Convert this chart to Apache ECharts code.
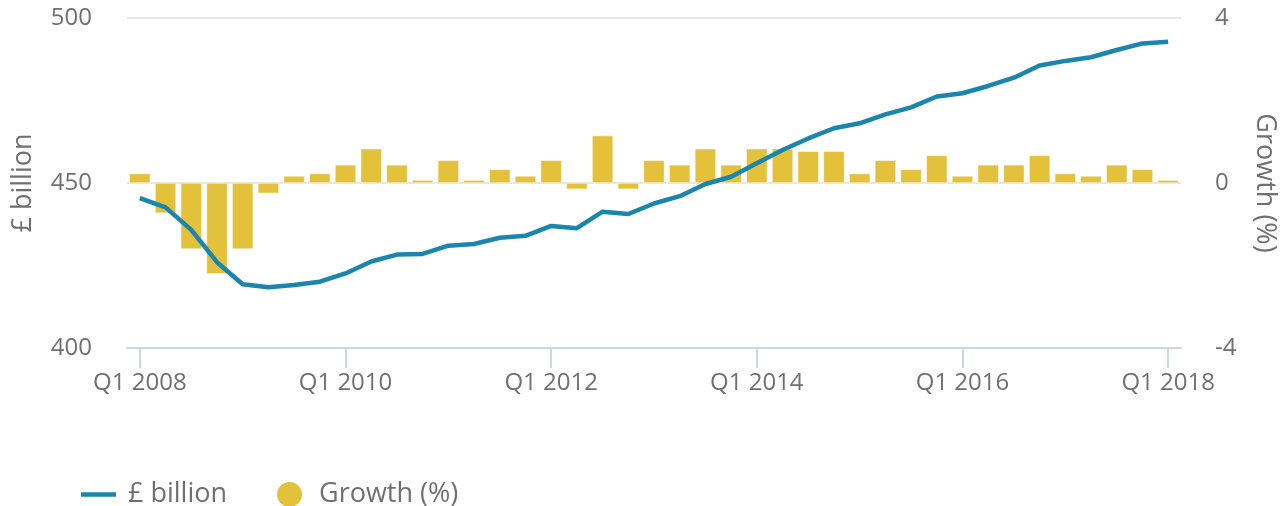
<!DOCTYPE html>
<html>
<head>
<meta charset="utf-8">
<script src="https://cdn.jsdelivr.net/npm/echarts@6/dist/echarts.min.js"></script>
<style>
  html, body { margin: 0; padding: 0; background: #fff; }
  #chart { width: 1287px; height: 506px; }
</style>
</head>
<body>
<div id="chart"></div>
<script>
// quarters Q1 2008 .. Q1 2018
var quarters = [
  'Q1 2008', 'Q2 2008', 'Q3 2008', 'Q4 2008',
  'Q1 2009', 'Q2 2009', 'Q3 2009', 'Q4 2009',
  'Q1 2010', 'Q2 2010', 'Q3 2010', 'Q4 2010',
  'Q1 2011', 'Q2 2011', 'Q3 2011', 'Q4 2011',
  'Q1 2012', 'Q2 2012', 'Q3 2012', 'Q4 2012',
  'Q1 2013', 'Q2 2013', 'Q3 2013', 'Q4 2013',
  'Q1 2014', 'Q2 2014', 'Q3 2014', 'Q4 2014',
  'Q1 2015', 'Q2 2015', 'Q3 2015', 'Q4 2015',
  'Q1 2016', 'Q2 2016', 'Q3 2016', 'Q4 2016',
  'Q1 2017', 'Q2 2017', 'Q3 2017', 'Q4 2017',
  'Q1 2018'
];

// £ billion (left axis)
var billions = [
  445.4, 442.6, 435.8, 426.0, 419.3, 418.4, 419.1, 420.1,
  422.6, 426.2, 428.3, 428.5, 431.0, 431.5, 433.4, 434.0,
  437.0, 436.3, 441.3, 440.6, 443.8, 446.0, 449.7, 451.9,
  456.0, 460.0, 463.5, 466.6, 468.1, 470.8, 472.9, 476.2,
  477.2, 479.4, 481.9, 485.6, 487.0, 488.1, 490.3, 492.3,
  492.8
];

// quarterly growth % (right axis)
var growth = [
  0.23, -0.73, -1.6, -2.2, -1.6, -0.25, 0.17, 0.23,
  0.44, 0.83, 0.44, 0.07, 0.55, 0.07, 0.33, 0.17,
  0.55, -0.15, 1.15, -0.15, 0.55, 0.44, 0.83, 0.44,
  0.83, 0.83, 0.77, 0.77, 0.23, 0.55, 0.33, 0.67,
  0.17, 0.44, 0.44, 0.67, 0.23, 0.17, 0.44, 0.33,
  0.07
];

var leftTicks = [400, 450, 500];
var rightTicks = [-4, 0, 4];

var grey = '#707070';
var font = '"Open Sans", sans-serif';

var chart = echarts.init(document.getElementById('chart'));

var option = {
  animation: false,
  textStyle: { fontFamily: font },
  grid: { left: 127, right: 106, top: 18, bottom: 158, containLabel: false, outerBoundsMode: 'none' },
  legend: {
    left: 76,
    top: 475,
    itemWidth: 35,
    itemHeight: 27,
    itemGap: 48,
    textStyle: { color: grey, fontSize: 27, fontFamily: font, padding: [0, 0, 0, 7] },
    data: [
      { name: '£ billion', icon: 'path://M0,0H35V4.5H0Z' },
      { name: 'Growth (%)', icon: 'circle' }
    ]
  },
  xAxis: {
    type: 'category',
    data: quarters,
    boundaryGap: true,
    axisLine: { show: true, onZero: false, lineStyle: { color: '#ccd6eb', width: 2 } },
    axisTick: {
      show: true,
      alignWithLabel: true,
      interval: 7,
      length: 20,
      lineStyle: { color: '#ccd6eb', width: 2 }
    },
    axisLabel: {
      interval: 7,
      color: grey,
      fontSize: 24,
      margin: 23,
      fontFamily: font
    }
  },
  yAxis: [
    {
      type: 'value',
      min: leftTicks[0],
      max: leftTicks[leftTicks.length - 1],
      interval: leftTicks[1] - leftTicks[0],
      name: '£ billion',
      nameLocation: 'middle',
      nameGap: 90,
      nameTextStyle: { color: grey, fontSize: 27, fontFamily: font },
      axisLine: { show: false },
      axisTick: { show: false },
      axisLabel: { color: grey, fontSize: 24, margin: 35, fontFamily: font },
      splitLine: { lineStyle: { color: '#e6e6e6', width: 2 } }
    },
    {
      type: 'value',
      min: rightTicks[0],
      max: rightTicks[rightTicks.length - 1],
      interval: rightTicks[1] - rightTicks[0],
      name: 'Growth (%)',
      nameLocation: 'middle',
      nameGap: 70,
      nameRotate: -90,
      nameTextStyle: { color: grey, fontSize: 27, fontFamily: font },
      axisLine: { show: false },
      axisTick: { show: false },
      axisLabel: { color: grey, fontSize: 24, margin: 34, fontFamily: font },
      splitLine: { show: false }
    }
  ],
  series: [
    {
      name: 'Growth (%)',
      type: 'bar',
      yAxisIndex: 1,
      data: growth,
      barWidth: 21,
      itemStyle: { color: '#e3c13b', borderColor: '#fff', borderWidth: 0.5 },
      z: 2
    },
    {
      name: '£ billion',
      type: 'line',
      yAxisIndex: 0,
      data: billions,
      symbol: 'none',
      lineStyle: { color: '#1b86ad', width: 4.5 },
      itemStyle: { color: '#1b86ad' },
      z: 3
    }
  ]
};

chart.setOption(option);
</script>
</body>
</html>
